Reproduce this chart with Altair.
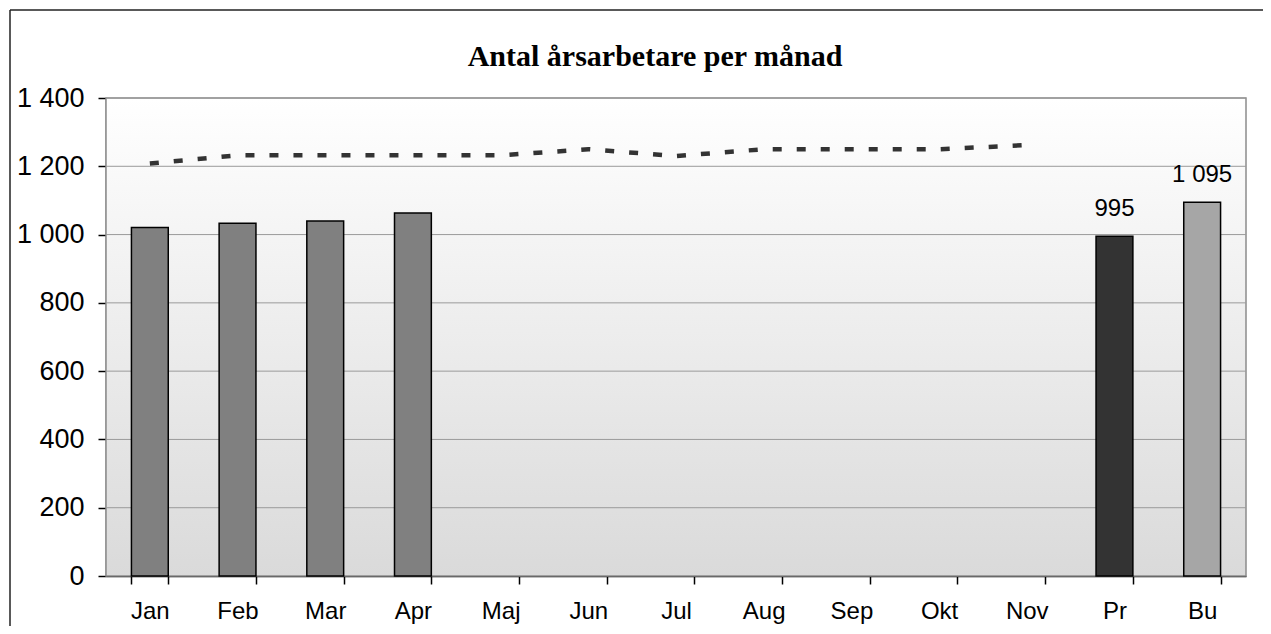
import altair as alt
import pandas as pd

categories = ["Jan", "Feb", "Mar", "Apr", "Maj", "Jun", "Jul", "Aug", "Sep", "Okt", "Nov", "Pr", "Bu"]
bar_values = [1021, 1033, 1040, 1063, None, None, None, None, None, None, None, 995, 1095]
bar_colors = ["#808080"] * 11 + ["#333333", "#a6a6a6"]
line_months = categories[:11]
line_values = [1208, 1232, 1232, 1232, 1232, 1250, 1230, 1250, 1250, 1250, 1262]
label_cats = ["Pr", "Bu"]
label_values = [995, 1095]
label_texts = ["995", "1 095"]
y_ticks = [0, 200, 400, 600, 800, 1000, 1200, 1400]
title_text = "Antal årsarbetare per månad"

W, H = 1140, 478
PAD_L, PAD_T, PAD_R, PAD_B = 98, 90, 17, 50

bars_df = pd.DataFrame({"cat": categories, "val": bar_values, "col": bar_colors}).dropna()
line_df = pd.DataFrame({"cat": line_months, "val": line_values})
lab_df = pd.DataFrame({"cat": label_cats, "val": label_values, "txt": label_texts})
grid_df = pd.DataFrame({"v": y_ticks[1:]})
bg_df = pd.DataFrame({"lo": [y_ticks[0]], "hi": [y_ticks[-1]]})
title_df = pd.DataFrame({"t": [title_text]})

yscale = alt.Scale(domain=[y_ticks[0], y_ticks[-1]], nice=False)
xscale = alt.Scale(domain=categories, paddingInner=0.58, paddingOuter=0.29)

xaxis = alt.Axis(title=None, labelAngle=0, tickBand="extent", labelPadding=15, labelFontSize=24)
yaxis = alt.Axis(title=None, values=y_ticks, grid=False, labelPadding=14, labelFontSize=27,
                 labelExpr="replace(format(datum.value, ','), ',', ' ')")

gradient = alt.LinearGradient(
    gradient="linear",
    stops=[alt.GradientStop(color="#ffffff", offset=0),
           alt.GradientStop(color="#dadada", offset=1)],
    x1=0, x2=0, y1=0, y2=1,
)

bg = alt.Chart(bg_df).mark_rect(fill=gradient, stroke="#8c8c8c", strokeWidth=1.5).encode(
    x=alt.value(0), x2=alt.value(W),
    y=alt.Y("lo:Q", scale=yscale, axis=yaxis), y2="hi:Q",
)

grid = alt.Chart(grid_df).mark_rule(color="#9a9a9a", strokeWidth=1).encode(
    y=alt.Y("v:Q", scale=yscale), x=alt.value(0), x2=alt.value(W)
)

bars = alt.Chart(bars_df).mark_bar(stroke="black", strokeWidth=1.5).encode(
    x=alt.X("cat:N", sort=categories, scale=xscale, axis=xaxis),
    y=alt.Y("val:Q", scale=yscale),
    fill=alt.Fill("col:N", scale=None),
)

line = alt.Chart(line_df).mark_line(color="#333333", strokeWidth=4.5, strokeDash=[9, 15]).encode(
    x=alt.X("cat:N", sort=categories, scale=xscale),
    y=alt.Y("val:Q", scale=yscale),
)

labels = alt.Chart(lab_df).mark_text(
    font="Liberation Sans", fontSize=24, baseline="alphabetic", dy=-20, color="black"
).encode(
    x=alt.X("cat:N", sort=categories, scale=xscale),
    y=alt.Y("val:Q", scale=yscale),
    text="txt:N",
)

title = alt.Chart(title_df).mark_text(
    font="Liberation Serif", fontSize=30, fontWeight="bold", color="black",
    baseline="alphabetic", align="center",
).encode(x=alt.value(W / 2 - 21), y=alt.value(-32), text="t:N")

frame_left = alt.Chart(bg_df).mark_rule(color="#222222", strokeWidth=1.5).encode(
    x=alt.value(-96), y=alt.value(-88), y2=alt.value(H + PAD_B)
)
frame_top = alt.Chart(bg_df).mark_rule(color="#222222", strokeWidth=1.5).encode(
    x=alt.value(-96), x2=alt.value(W + PAD_R), y=alt.value(-88)
)

chart = alt.layer(bg, grid, bars, line, labels, title, frame_left, frame_top).properties(
    width=W, height=H,
    padding={"left": PAD_L, "top": PAD_T, "right": PAD_R, "bottom": PAD_B},
    autosize=alt.AutoSizeParams(type="none"),
).configure_view(stroke=None).configure_axis(
    labelFont="Liberation Sans", labelColor="black",
    domainColor="black", domainWidth=1.5, tickColor="black", tickWidth=1.5, tickSize=8,
    zindex=1,
)

chart.save("out.html", embed_options={"renderer": "svg", "actions": False})
